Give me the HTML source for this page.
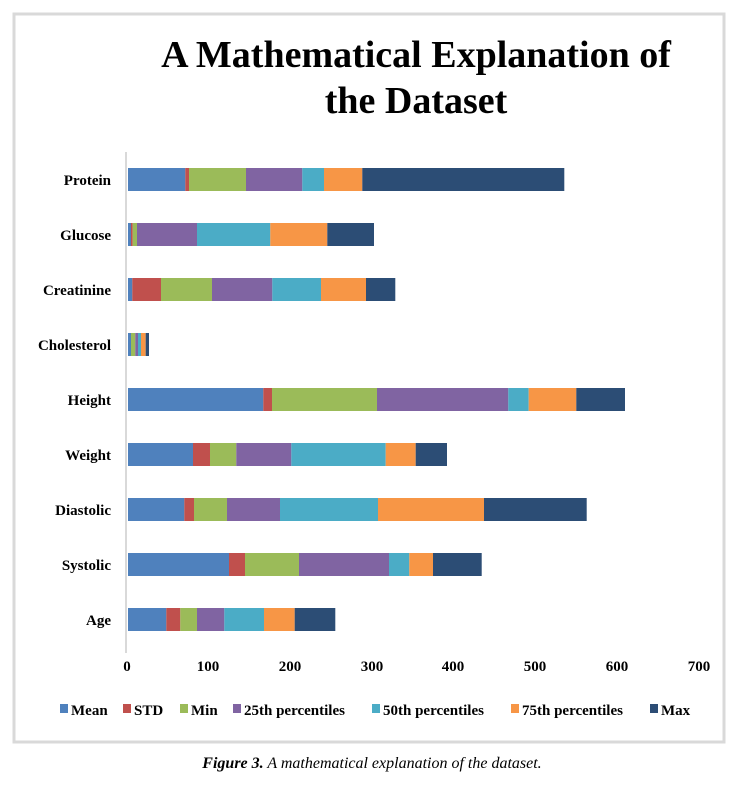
<!DOCTYPE html>
<html><head><style>
body{margin:0;background:#fff;}
svg text{font-family:"Liberation Serif",serif;font-weight:bold;fill:#000;}
</style></head><body>
<svg width="744" height="785" xmlns="http://www.w3.org/2000/svg">
<rect x="14" y="14" width="710" height="728" fill="#fff" stroke="#d9d9d9" stroke-width="3"/>
<text x="416" y="67" font-size="38" text-anchor="middle">A Mathematical Explanation of</text>
<text x="416" y="113" font-size="38" text-anchor="middle">the Dataset</text>
<line x1="126" y1="152" x2="126" y2="653" stroke="#d9d9d9" stroke-width="2"/>
<g font-size="15" text-anchor="end">
<text x="111" y="185">Protein</text>
<text x="111" y="240">Glucose</text>
<text x="111" y="295">Creatinine</text>
<text x="111" y="350">Cholesterol</text>
<text x="111" y="405">Height</text>
<text x="111" y="460">Weight</text>
<text x="111" y="515">Diastolic</text>
<text x="111" y="570">Systolic</text>
<text x="111" y="625">Age</text>
</g>
<g font-size="15" text-anchor="middle">
<text x="127" y="671">0</text><text x="208" y="671">100</text><text x="290" y="671">200</text><text x="372" y="671">300</text><text x="453" y="671">400</text><text x="535" y="671">500</text><text x="617" y="671">600</text><text x="699" y="671">700</text>
</g>
<g font-size="15">
<rect x="60" y="704" width="8" height="9" fill="#4f81bd"/><text x="71" y="715">Mean</text>
<rect x="123" y="704" width="8" height="9" fill="#c0504d"/><text x="134" y="715">STD</text>
<rect x="180" y="704" width="8" height="9" fill="#9bbb59"/><text x="191" y="715">Min</text>
<rect x="233" y="704" width="8" height="9" fill="#8064a2"/><text x="244" y="715">25th percentiles</text>
<rect x="372" y="704" width="8" height="9" fill="#4bacc6"/><text x="383" y="715">50th percentiles</text>
<rect x="511" y="704" width="8" height="9" fill="#f79646"/><text x="522" y="715">75th percentiles</text>
<rect x="650" y="704" width="8" height="9" fill="#2c4d75"/><text x="661" y="715">Max</text>
</g>
<text x="372" y="768" font-size="16" text-anchor="middle" style="font-style:italic;font-weight:normal"><tspan style="font-weight:bold">Figure 3.</tspan> A mathematical explanation of the dataset.</text>
<g stroke="none">
<rect x="128" y="168" width="57.3" height="23" fill="#4f81bd"/><rect x="185.3" y="168" width="3.7" height="23" fill="#c0504d"/><rect x="189" y="168" width="57" height="23" fill="#9bbb59"/><rect x="246" y="168" width="56.3" height="23" fill="#8064a2"/><rect x="302.3" y="168" width="21.7" height="23" fill="#4bacc6"/><rect x="324" y="168" width="38.3" height="23" fill="#f79646"/><rect x="362.3" y="168" width="202" height="23" fill="#2c4d75"/>
<rect x="128" y="223" width="3" height="23" fill="#4f81bd"/><rect x="131" y="223" width="1.7" height="23" fill="#c0504d"/><rect x="132.7" y="223" width="4.3" height="23" fill="#9bbb59"/><rect x="137" y="223" width="60" height="23" fill="#8064a2"/><rect x="197" y="223" width="73.3" height="23" fill="#4bacc6"/><rect x="270.3" y="223" width="57" height="23" fill="#f79646"/><rect x="327.3" y="223" width="46.7" height="23" fill="#2c4d75"/>
<rect x="128" y="278" width="4.3" height="23" fill="#4f81bd"/><rect x="132.3" y="278" width="28.7" height="23" fill="#c0504d"/><rect x="161" y="278" width="51" height="23" fill="#9bbb59"/><rect x="212" y="278" width="60.3" height="23" fill="#8064a2"/><rect x="272.3" y="278" width="48.7" height="23" fill="#4bacc6"/><rect x="321" y="278" width="45" height="23" fill="#f79646"/><rect x="366" y="278" width="29.3" height="23" fill="#2c4d75"/>
<rect x="128" y="333" width="3" height="23" fill="#4f81bd"/><rect x="131" y="333" width="4.3" height="23" fill="#9bbb59"/><rect x="135.3" y="333" width="2.7" height="23" fill="#8064a2"/><rect x="138" y="333" width="3" height="23" fill="#4bacc6"/><rect x="141" y="333" width="4.7" height="23" fill="#f79646"/><rect x="145.7" y="333" width="3.3" height="23" fill="#2c4d75"/>
<rect x="128" y="388" width="135.3" height="23" fill="#4f81bd"/><rect x="263.3" y="388" width="8.7" height="23" fill="#c0504d"/><rect x="272" y="388" width="105" height="23" fill="#9bbb59"/><rect x="377" y="388" width="131.3" height="23" fill="#8064a2"/><rect x="508.3" y="388" width="20.4" height="23" fill="#4bacc6"/><rect x="528.7" y="388" width="47.6" height="23" fill="#f79646"/><rect x="576.3" y="388" width="48.7" height="23" fill="#2c4d75"/>
<rect x="128" y="443" width="65" height="23" fill="#4f81bd"/><rect x="193" y="443" width="17" height="23" fill="#c0504d"/><rect x="210" y="443" width="26.3" height="23" fill="#9bbb59"/><rect x="236.3" y="443" width="55" height="23" fill="#8064a2"/><rect x="291.3" y="443" width="94.4" height="23" fill="#4bacc6"/><rect x="385.7" y="443" width="30" height="23" fill="#f79646"/><rect x="415.7" y="443" width="31.3" height="23" fill="#2c4d75"/>
<rect x="128" y="498" width="56.3" height="23" fill="#4f81bd"/><rect x="184.3" y="498" width="9.7" height="23" fill="#c0504d"/><rect x="194" y="498" width="33" height="23" fill="#9bbb59"/><rect x="227" y="498" width="53" height="23" fill="#8064a2"/><rect x="280" y="498" width="98" height="23" fill="#4bacc6"/><rect x="378" y="498" width="106" height="23" fill="#f79646"/><rect x="484" y="498" width="102.7" height="23" fill="#2c4d75"/>
<rect x="128" y="553" width="101" height="23" fill="#4f81bd"/><rect x="229" y="553" width="16" height="23" fill="#c0504d"/><rect x="245" y="553" width="54" height="23" fill="#9bbb59"/><rect x="299" y="553" width="90" height="23" fill="#8064a2"/><rect x="389" y="553" width="20.3" height="23" fill="#4bacc6"/><rect x="409.3" y="553" width="23.7" height="23" fill="#f79646"/><rect x="433" y="553" width="48.7" height="23" fill="#2c4d75"/>
<rect x="128" y="608" width="38.3" height="23" fill="#4f81bd"/><rect x="166.3" y="608" width="14" height="23" fill="#c0504d"/><rect x="180.3" y="608" width="16.7" height="23" fill="#9bbb59"/><rect x="197" y="608" width="27.3" height="23" fill="#8064a2"/><rect x="224.3" y="608" width="39.7" height="23" fill="#4bacc6"/><rect x="264" y="608" width="30.7" height="23" fill="#f79646"/><rect x="294.7" y="608" width="40.6" height="23" fill="#2c4d75"/>
</g>
</svg>
</body></html>
